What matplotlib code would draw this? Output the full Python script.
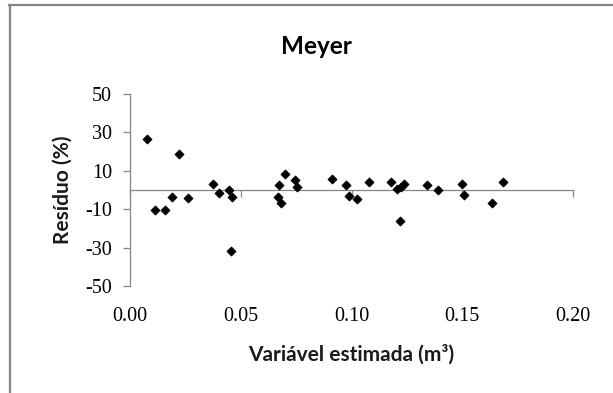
import matplotlib
matplotlib.use("Agg")
import matplotlib.pyplot as plt
from matplotlib.lines import Line2D

# ---- data ----
x_vals = [0.0078, 0.0113, 0.0160, 0.0188, 0.0223, 0.0263, 0.0373, 0.0400, 0.0446, 0.0462,
          0.0456, 0.0668, 0.0674, 0.0682, 0.0698, 0.0745, 0.0753, 0.0912, 0.0975, 0.0987,
          0.1023, 0.1080, 0.1178, 0.1206, 0.1222, 0.1237, 0.1219, 0.1341, 0.1389, 0.1498,
          0.1510, 0.1636, 0.1684]
y_vals = [26.6, -10.6, -10.6, -3.5, 18.8, -4.2, 3.3, -1.4, 0.0, -3.6,
          -31.6, -3.8, 2.6, -6.9, 8.2, 5.0, 1.7, 5.6, 2.6, -3.3,
          -4.9, 4.2, 4.2, 0.5, 1.4, 2.9, -16.1, 2.6, 0.0, 3.3,
          -2.8, -6.8, 4.0]
x_ticks = [0.00, 0.05, 0.10, 0.15, 0.20]
x_tick_labels = ["0.00", "0.05", "0.10", "0.15", "0.20"]
y_ticks = [-50, -30, -10, 10, 30, 50]
y_tick_labels = ["-50", "-30", "-10", "10", "30", "50"]
title = "Meyer"
x_label = "Variável estimada (m³)"
y_label = "Resíduo (%)"

W, H = 613, 393
fig = plt.figure(figsize=(W / 100, H / 100), dpi=100)
fig.patch.set_facecolor("white")

left, right, top, bottom = 130, 573, 94, 286
ax = fig.add_axes([left / W, 1 - bottom / H, (right - left) / W, (bottom - top) / H])

grey = "#868686"
ax.scatter(x_vals, y_vals, marker="D", s=22, color="black", linewidths=0.5, zorder=3, clip_on=False)

ax.set_xlim(0, 0.2)
ax.set_ylim(-50, 50)

for s in ["top", "right", "bottom"]:
    ax.spines[s].set_visible(False)
ax.spines["left"].set_color(grey)
ax.spines["left"].set_linewidth(0.9)

ax.set_yticks(y_ticks)
ax.set_yticklabels(y_tick_labels)
ax.tick_params(axis="y", direction="out", length=5, width=0.9, color=grey, pad=8,
               labelsize=14.5, labelfontfamily="Liberation Serif")

ax.set_xticks(x_ticks)
ax.set_xticklabels(x_tick_labels)
ax.tick_params(axis="x", length=0, pad=15, labelsize=14.5, labelfontfamily="Liberation Serif")

# zero-crossing horizontal axis with downward tick marks
sec = ax.secondary_xaxis(0.5)
sec.xaxis.set_ticks_position("bottom")
sec.set_xticks(x_ticks)
sec.set_xticklabels([])
sec.tick_params(axis="x", which="both", bottom=True, top=False, direction="out",
                length=5, width=0.9, color=grey)
for s in sec.spines.values():
    s.set_color(grey)
    s.set_linewidth(0.9)

# axis labels
ax.text((63 - left) / (right - left), 0.5, y_label, transform=ax.transAxes, rotation=90,
        ha="center", va="center", rotation_mode="anchor", fontsize=15,
        family="Lato", fontweight="bold", color="#1a1a1a")
ax.text(0.5, (bottom - 354) / (bottom - top), x_label, transform=ax.transAxes,
        ha="center", va="center", fontsize=15, family="Lato", fontweight="bold", color="#1a1a1a")

fig.text(316 / W, 1 - 47 / H, title, ha="center", va="center", fontsize=17.5,
         family="Lato", fontweight="bold", color="black")

# chart-area border (cropped on right/bottom)
fig.add_artist(Line2D([9 / W, 1.0], [1 - 4.5 / H, 1 - 4.5 / H], transform=fig.transFigure,
                      color=grey, linewidth=1.6))
fig.add_artist(Line2D([9.5 / W, 9.5 / W], [0.0, 1 - 4.5 / H], transform=fig.transFigure,
                      color=grey, linewidth=1.6))

fig.savefig("out.png", dpi=100)
